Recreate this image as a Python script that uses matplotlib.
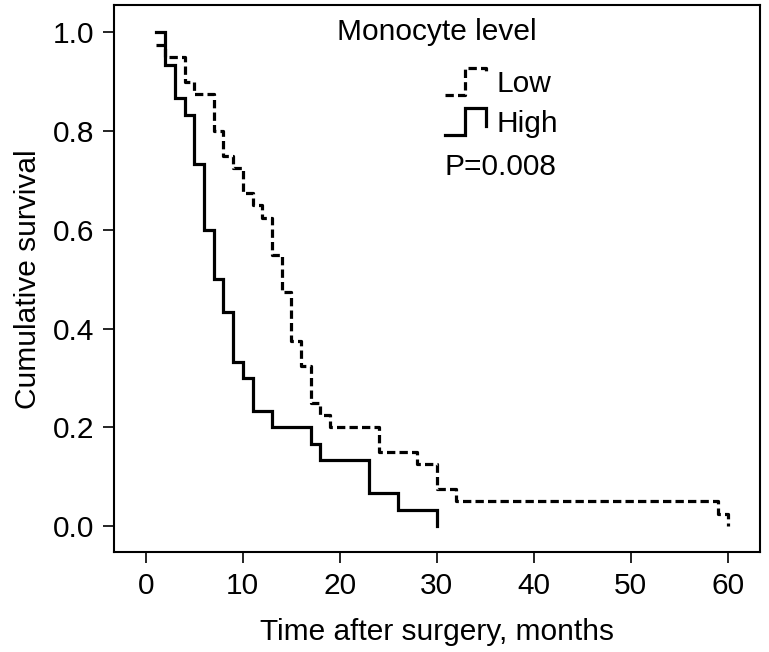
"""Courbes de survie Kaplan-Meier selon le niveau de monocytes"""

import matplotlib
matplotlib.use('Agg')
import matplotlib.pyplot as plt
from matplotlib.legend_handler import HandlerBase
from matplotlib.lines import Line2D

plt.rcParams['font.family'] = ['Liberation Sans', 'DejaVu Sans']
plt.rcParams['font.size'] = 21.5
plt.rcParams['lines.scale_dashes'] = False

# Données (mois, survie cumulée)
temps_low = [1, 2, 4, 5, 7, 8, 9, 10, 11, 12, 13, 14, 15, 16, 17, 18, 19, 24, 28, 30, 32, 59, 60]
survie_low = [0.975, 0.95, 0.9, 0.875, 0.8, 0.75, 0.725, 0.675, 0.65, 0.625, 0.55, 0.475,
              0.375, 0.325, 0.25, 0.225, 0.2, 0.15, 0.125, 0.075, 0.05, 0.025, 0.0]

temps_high = [1, 2, 3, 4, 5, 6, 7, 8, 9, 10, 11, 13, 17, 18, 23, 26, 30]
survie_high = [1.0, 0.933, 0.867, 0.833, 0.733, 0.6, 0.5, 0.433, 0.333, 0.3, 0.233, 0.2,
               0.167, 0.133, 0.067, 0.033, 0.0]

x_ticks = [0, 10, 20, 30, 40, 50, 60]
y_ticks = [0.0, 0.2, 0.4, 0.6, 0.8, 1.0]


class HandlerMarche(HandlerBase):
    # Symbole de légende en forme de marche, comme dans la figure d'origine
    def __init__(self, fin):
        super().__init__()
        self.fin = fin

    def create_artists(self, legend, orig_handle, xdescent, ydescent, width, height, fontsize, trans):
        x0, y0 = -xdescent, -ydescent
        xs = [x0, x0 + 0.48 * width, x0 + 0.48 * width, x0 + width, x0 + width]
        ys = [y0, y0, y0 + height, y0 + height, y0 + self.fin * height]
        ligne = Line2D(xs, ys, color='black', lw=orig_handle.get_linewidth(),
                       linestyle=orig_handle.get_linestyle(), solid_joinstyle='miter')
        if orig_handle.get_linestyle() == '--':
            ligne.set_dashes((6, 3))
        ligne.set_transform(trans)
        return [ligne]


fig = plt.figure(figsize=(7.69, 6.52), dpi=100)
ax = fig.add_axes([0.148, 0.153, 0.840, 0.839])

l_low, = ax.step(temps_low, survie_low, where='post', color='black', lw=2.3,
                 linestyle='--', dashes=(6, 3), label='Low')
l_high, = ax.step(temps_high, survie_high, where='post', color='black', lw=2.3,
                  label='High', solid_joinstyle='miter')

ax.set_xlim(-3.3, 63.3)
ax.set_ylim(-0.053, 1.055)
ax.set_xticks(x_ticks)
ax.set_yticks(y_ticks)
ax.set_yticklabels([f'{v:.1f}' for v in y_ticks])
ax.tick_params(length=8, width=1.2, pad=6)
for s in ax.spines.values():
    s.set_linewidth(1.5)

ax.set_xlabel('Time after surgery, months', labelpad=13)
ax.set_ylabel('Cumulative survival', labelpad=8)

# Légende et annotations
ax.text(0.50, 0.951, 'Monocyte level', transform=ax.transAxes, ha='center', va='center')
ax.legend(handles=[l_low, l_high], loc='upper left', bbox_to_anchor=(0.512, 0.885),
          frameon=False, borderpad=0, borderaxespad=0, handlelength=1.4, handleheight=1.0,
          handletextpad=0.35, labelspacing=0.35,
          handler_map={l_low: HandlerMarche(0.85), l_high: HandlerMarche(0.35)})
ax.text(0.512, 0.704, 'P=0.008', transform=ax.transAxes, ha='left', va='center')

fig.savefig('out.png', dpi=100)
